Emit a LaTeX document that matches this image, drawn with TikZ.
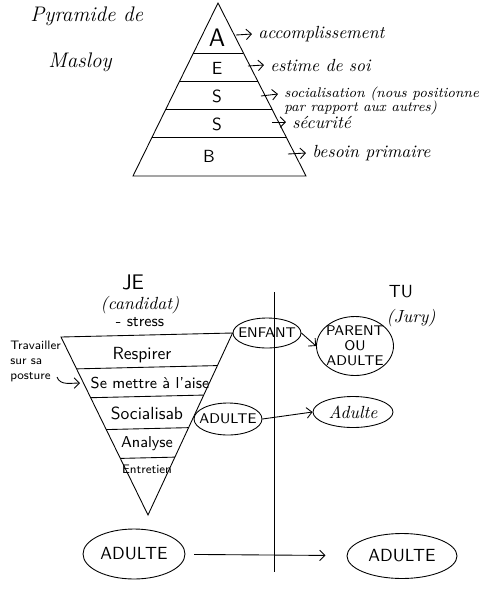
\documentclass[tikz,border=0pt]{standalone}
\usepackage{tikz}
\usetikzlibrary{calc,positioning,shapes.geometric,arrows.meta}

\tikzset{
	bulle/.style={draw, ellipse, inner sep=-1cm, font=\sffamily\footnotesize},
	fleche/.style={-{Straight Barb[length=3pt,width=6pt]}},
	note/.style={anchor=west, font=\itshape},
	etage/.style={font=\sffamily},
}

\begin{document}
\begin{tikzpicture}[x=0.02cm, y=-0.02cm, line width=0.5pt]
	\useasboundingbox (0,0) rectangle (500,600);

	% Titre
	\node [anchor=west, font=\large\itshape] (titre) at (24,16) {Pyramide de};
	\node [anchor=west, font=\large\itshape] (titreb) at (42,62) {Masloy};

	% Pyramide de Maslow
	\coordinate (sommet) at (218,3);
	\coordinate (bg) at (133,176);
	\coordinate (bd) at (306,176);
	\draw (sommet) -- (bg) -- (bd) -- cycle;
	\foreach \f in {0.289,0.451,0.613,0.775}
		\draw ($(sommet)!\f!(bg)$) -- ($(sommet)!\f!(bd)$);
	\node [etage, font=\Large\sffamily] (nA) at (217,38) {A};
	\node [etage] (nE) at (217,68) {E};
	\node [etage] (nS) at (217,96) {S};
	\node [etage] (nSb) at (217,124) {S};
	\node [etage] (nB) at (209,156) {B};

	% Besoins, de haut en bas
	\node [note] (accomp) at (252,34) {accomplissement};
	\node [note] (estime) at (264,65) {estime de soi};
	\node [note, font=\footnotesize\itshape] (socia) at (278,94) {socialisation (nous positionne};
	\node [note, font=\footnotesize\itshape] (sociab) at (278,108) {par rapport aux autres)};
	\node [note] (secu) at (286,122) {s\'ecurit\'e};
	\node [note] (besoin) at (306,153) {besoin primaire};
	\coordinate (fA) at (236,35);
	\coordinate (fE) at (248,66);
	\coordinate (fS) at (261,96);
	\coordinate (fSb) at (272,122);
	\coordinate (fB) at (288,154);
	\draw[fleche] (fA) -- (accomp.west);
	\draw[fleche] (fE) -- (estime.west);
	\draw[fleche] (fS) -- (socia.west);
	\draw[fleche] (fSb) -- (secu.west);
	\draw[fleche] (fB) -- (besoin.west);

	% Candidat
	\node [font=\large\sffamily] (je) at (133,282) {JE};
	\node [font=\itshape] (candidat) at (140,305) {(candidat)};
	\node [font=\sffamily\small] (stress) at (140,322) {- stress};

	% Jury
	\node [font=\sffamily] (tu) at (401,292) {TU};
	\node [font=\itshape] (jury) at (411,318) {(Jury)};

	% Separation
	\coordinate (vhaut) at (274,292);
	\coordinate (vbas) at (274,572);
	\draw (vhaut) -- (vbas);

	% Etats du moi
	\node [bulle, minimum width=1.36cm, minimum height=0.6cm] (enfant) at (267,333) {ENFANT};
	\node [bulle, minimum width=1.54cm, minimum height=1.18cm, align=center] (parent) at (355,346) {PARENT\\[-1pt]OU\\[-1pt]ADULTE};
	\node [bulle, minimum width=1.36cm, minimum height=0.64cm] (adultea) at (228,419) {ADULTE};
	\node [bulle, minimum width=1.6cm, minimum height=0.62cm, font=\itshape] (adulteb) at (353,412) {Adulte};
	\node [bulle, minimum width=2.04cm, minimum height=1cm, font=\sffamily] (adultec) at (134,554) {ADULTE};
	\node [bulle, minimum width=2.2cm, minimum height=0.9cm, font=\sffamily] (adulted) at (402,556) {ADULTE};
	\draw[fleche] (enfant.east) -- (parent.west);
	\draw[fleche] (adultea.east) -- (adulteb.west);
	\draw[fleche, shorten <=5pt, shorten >=12pt] (adultec) -- (adulted);

	% Pyramide inversee
	\coordinate (ihg) at (61,337);
	\coordinate (ihd) at (enfant.west);
	\coordinate (ibas) at (148,515);
	\draw (ibas) -- (ihg) -- (ihd) -- cycle;
	\foreach \f in {0.179,0.341,0.520,0.682}
		\draw ($(ihg)!\f!(ibas)$) -- ($(ihd)!\f!(ibas)$);
	\node [etage] (respirer) at (142,355) {Respirer};
	\node [etage, font=\small\sffamily] (aise) at (150,383) {Se mettre \`a l'aise};
	\node [etage] (socialisab) at (147,413) {Socialisab};
	\node [etage, font=\small\sffamily] (analyse) at (147,444) {Analyse};
	\node [etage, font=\scriptsize\sffamily] (entretien) at (147,469) {Entretien};

	% Travailler sur sa posture
	\node [anchor=west, font=\scriptsize\sffamily] (trav) at (4,345) {Travailler};
	\node [anchor=west, font=\scriptsize\sffamily] (travb) at (4,362) {sur sa};
	\node [anchor=west, font=\scriptsize\sffamily] (travc) at (4,377) {posture};
	\coordinate (pointe) at (80,383);
	\draw[fleche] (travc.east) to[out=-70, in=180] (pointe);
\end{tikzpicture}
\end{document}
